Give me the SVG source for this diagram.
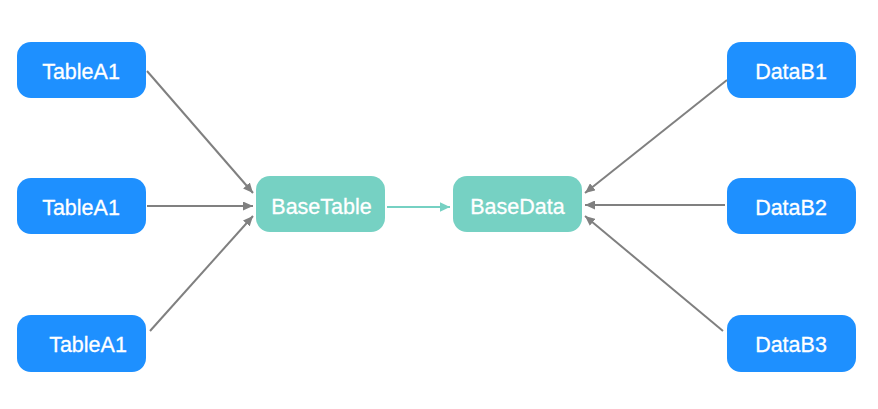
<svg xmlns="http://www.w3.org/2000/svg" width="878" height="409" viewBox="0 0 878 409">
<style>
.src rect{fill:#1e90ff}
.mid rect{fill:#76d1c3}
text{font-family:"Liberation Sans",Arial,sans-serif;font-size:21.5px;fill:#ffffff;stroke:#ffffff;stroke-width:0.3;text-anchor:middle}
.e{stroke:#808080;stroke-width:2;fill:none;marker-end:url(#ag)}
.t{stroke:#76d1c3;stroke-width:2;fill:none;marker-end:url(#at)}
</style>
<defs>
<marker id="ag" markerUnits="userSpaceOnUse" markerWidth="11" markerHeight="9" refX="10" refY="4.5" orient="auto"><path d="M0,0 L10,4.5 L0,9 z" fill="#808080"/></marker>
<marker id="at" markerUnits="userSpaceOnUse" markerWidth="11" markerHeight="10" refX="10" refY="4.8" orient="auto"><path d="M0,0 L10,4.8 L0,9.6 z" fill="#76d1c3"/></marker>
</defs>
<rect width="878" height="409" fill="#ffffff"/>
<g id="connectors">
<line class="e" x1="147" y1="71" x2="253" y2="193"/>
<line class="e" x1="147" y1="206" x2="253" y2="206"/>
<line class="e" x1="150" y1="331" x2="253" y2="216"/>
<line class="t" x1="387" y1="207" x2="450" y2="207"/>
<line class="e" x1="727" y1="80" x2="585" y2="193"/>
<line class="e" x1="725" y1="205" x2="585" y2="205"/>
<line class="e" x1="723" y1="331" x2="585" y2="216"/>
</g>
<g id="tableA1-1" class="src"><rect x="17" y="42" width="129" height="56" rx="14"/><text x="81" y="79">TableA1</text></g>
<g id="tableA1-2" class="src"><rect x="17" y="178" width="129" height="56" rx="14"/><text x="81" y="215">TableA1</text></g>
<g id="tableA1-3" class="src"><rect x="17" y="315" width="129" height="57" rx="14"/><text x="88" y="352">TableA1</text></g>
<g id="baseTable" class="mid"><rect x="256" y="176" width="129" height="56" rx="14"/><text x="321.5" y="213.5">BaseTable</text></g>
<g id="baseData" class="mid"><rect x="453" y="176" width="129" height="56" rx="14"/><text x="517.5" y="213.5">BaseData</text></g>
<g id="dataB1" class="src"><rect x="727" y="42" width="129" height="56" rx="14"/><text x="791" y="79">DataB1</text></g>
<g id="dataB2" class="src"><rect x="727" y="178" width="129" height="56" rx="14"/><text x="791" y="215">DataB2</text></g>
<g id="dataB3" class="src"><rect x="727" y="315" width="129" height="57" rx="14"/><text x="791" y="352">DataB3</text></g>
</svg>
